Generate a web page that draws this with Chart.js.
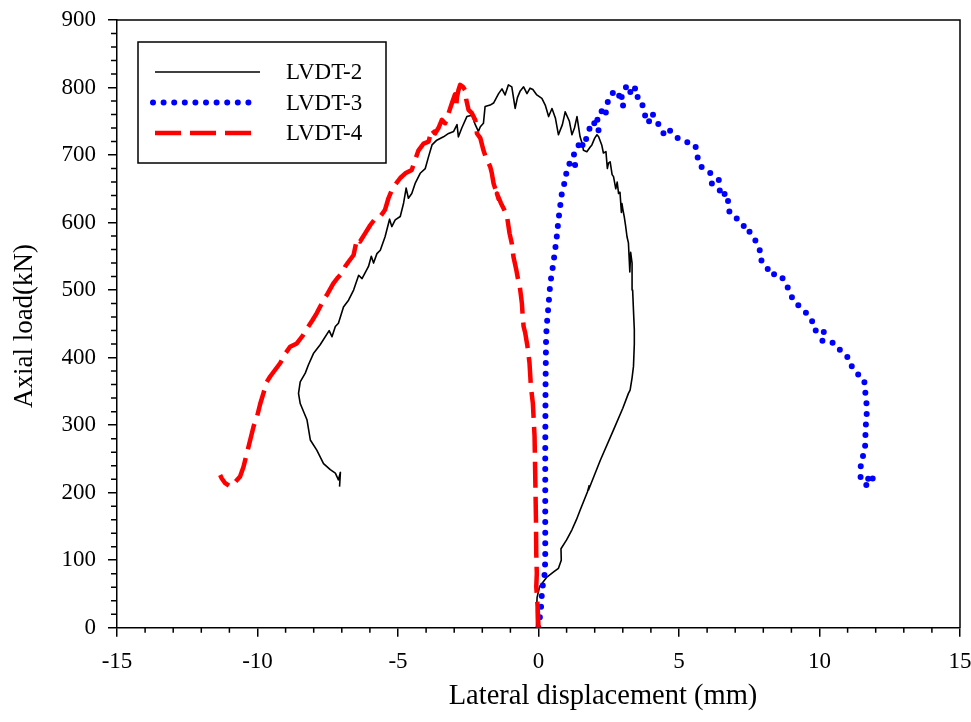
<!DOCTYPE html>
<html>
<head>
<meta charset="utf-8">
<script src="https://cdn.jsdelivr.net/npm/chart.js@4.4.1/dist/chart.umd.min.js"></script>
<style>
html,body{margin:0;padding:0;background:#fff;}
#wrap{width:971px;height:722px;position:relative;}
</style>
</head>
<body>
<div id="wrap"><canvas id="c" width="971" height="722"></canvas></div>
<script>
// ---------- data ----------
const seriesNames = ['LVDT-2', 'LVDT-3', 'LVDT-4'];
const xAxisTitle = 'Lateral displacement (mm)';
const yAxisTitle = 'Axial load(kN)';
const xTickValues = [-15, -10, -5, 0, 5, 10, 15];
const yTickValues = [0, 100, 200, 300, 400, 500, 600, 700, 800, 900];

// LVDT-2 (black solid)
const lvdt2X = [-0.08,-0.07,-0.05,0.04,0.30,0.55,0.71,0.81,0.80,1.00,1.19,1.35,1.48,1.74,1.80,1.78,2.20,2.67,3.00,3.20,3.26,3.33,3.38,3.41,3.41,3.38,3.35,3.33,3.28,3.25,3.20,3.15,3.10,3.05,3.00,2.97,2.95,2.90,2.85,2.80,2.75,2.67,2.62,2.55,2.49,2.45,2.40,2.31,2.25,2.14,2.08,2.00,1.90,1.84,1.72,1.60,1.55,1.48,1.37,1.28,1.19,1.10,0.95,0.85,0.71,0.60,0.48,0.36,0.24,0.12,-0.06,-0.20,-0.30,-0.41,-0.53,-0.65,-0.75,-0.83,-0.95,-1.07,-1.19,-1.30,-1.42,-1.60,-1.72,-1.90,-1.96,-2.07,-2.14,-2.25,-2.37,-2.55,-2.73,-2.85,-2.90,-3.02,-3.20,-3.38,-3.62,-3.79,-3.91,-4.03,-4.21,-4.39,-4.51,-4.63,-4.71,-4.80,-4.92,-5.10,-5.22,-5.30,-5.46,-5.63,-5.75,-5.87,-5.95,-6.05,-6.28,-6.40,-6.58,-6.76,-6.94,-7.12,-7.23,-7.35,-7.45,-7.77,-8.01,-8.19,-8.30,-8.48,-8.54,-8.48,-8.24,-8.12,-7.89,-7.65,-7.41,-7.23,-7.12,-7.05,-7.08];
const lvdt2Y = [0,25,45,61,75,83,88,100,117,130,145,160,174,201,210,204,248,293,325,347,352,370,387,420,441,470,500,540,556,527,570,579,595,609,620,628,615,645,643,660,650,668,671,690,688,680,705,703,715,727,730,725,715,712,705,707,718,727,757,740,730,750,764,745,730,755,769,757,774,784,789,797,799,791,801,795,785,769,801,804,789,798,791,777,774,772,747,742,735,745,759,757,740,727,745,735,732,727,722,715,698,680,673,658,643,636,651,629,609,604,594,605,579,559,554,540,550,535,517,522,500,485,475,451,446,431,440,419,406,389,377,364,347,332,308,278,263,243,234,229,219,230,209];

// LVDT-3 (blue dotted)
const lvdt3X = [0.00,0.03,0.06,0.10,0.12,0.14,0.17,0.22,0.24,0.24,0.24,0.25,0.27,0.30,0.33,0.36,0.42,0.53,0.59,0.65,0.71,0.77,0.83,0.95,1.01,1.13,1.31,1.25,1.37,1.48,1.60,1.72,1.84,1.95,2.14,2.08,2.25,2.37,2.49,2.73,2.85,3.02,2.95,3.15,3.25,3.32,3.45,3.55,3.68,3.74,3.91,4.04,4.21,4.45,4.60,4.87,5.22,5.58,5.64,5.75,6.11,6.17,6.41,6.47,6.70,6.76,6.80,7.06,7.30,7.32,7.45,7.71,7.87,7.91,8.13,8.25,8.45,8.60,8.74,8.93,9.07,9.31,9.53,9.75,9.81,10.00,10.17,10.05,10.30,10.62,10.80,11.03,11.15,11.31,11.59,11.62,11.66,11.69,11.66,11.64,11.63,11.62,11.57,11.51,11.47,11.45,11.47,11.59,11.74,11.80,11.70,11.85,11.98];
const lvdt3Y = [0,10,19,35,51,60,66,80,100,160,258,357,431,451,465,480,510,540,559,579,604,624,643,663,678,690,683,700,707,722,712,727,742,750,735,759,765,757,784,796,790,772,785,804,795,789,800,782,779,764,747,762,750,732,740,727,720,715,700,684,674,658,666,639,644,628,614,606,596,589,590,574,560,545,534,522,524,523,514,499,484,475,466,453,441,438,440,425,425,419,406,400,387,377,368,352,338,322,308,293,278,265,258,248,240,230,219,213,210,218,222,216,231];

// LVDT-4 (red dashed)
const lvdt4X = [0.00,-0.03,-0.08,-0.06,-0.08,-0.09,-0.12,-0.14,-0.20,-0.27,-0.32,-0.39,-0.47,-0.53,-0.56,-0.59,-0.68,-0.71,-0.79,-0.89,-0.95,-1.03,-1.12,-1.22,-1.34,-1.48,-1.42,-1.60,-1.66,-1.72,-1.84,-1.96,-2.07,-2.19,-2.25,-2.37,-2.49,-2.57,-2.61,-2.69,-2.79,-2.85,-2.90,-2.93,-2.97,-3.08,-3.20,-3.32,-3.44,-3.56,-3.68,-3.80,-3.91,-4.09,-4.27,-4.39,-4.51,-4.74,-4.92,-5.10,-5.22,-5.34,-5.46,-5.63,-5.81,-5.99,-6.17,-6.35,-6.45,-6.52,-6.58,-6.76,-6.88,-7.00,-7.17,-7.30,-7.50,-7.65,-7.89,-8.05,-8.24,-8.40,-8.60,-8.84,-9.01,-9.19,-9.37,-9.55,-9.67,-9.79,-9.90,-10.02,-10.14,-10.26,-10.38,-10.50,-10.62,-10.79,-10.97,-11.15,-11.27,-11.33];
const lvdt4Y = [0,30,61,80,110,160,234,283,332,357,392,416,436,446,460,480,510,512,530,549,569,584,609,619,629,643,635,658,673,683,693,707,725,732,752,762,767,782,796,801,804,796,786,772,790,777,762,747,752,740,732,738,720,717,707,693,678,673,666,656,648,636,619,609,606,596,584,572,576,564,552,542,535,525,517,510,495,485,466,455,443,432,421,416,406,392,382,372,364,347,332,312,298,278,258,238,224,216,209,214,221,226];

// ---------- helpers ----------
function toPoints(xs, ys) { return xs.map((x, i) => ({ x: x, y: ys[i] })); }

const FONT = 'Liberation Serif';
Chart.defaults.font.family = FONT;
Chart.defaults.color = '#000';

const seriesStyles = [
  { color: '#000000', width: 1.6, dash: [], cap: 'butt' },
  { color: '#0000ff', width: 6, dash: [0, 10.6], cap: 'round' },
  { color: '#ff0000', width: 4.5, dash: [26, 9], cap: 'butt' }
];

const datasets = [
  toPoints(lvdt2X, lvdt2Y),
  toPoints(lvdt3X, lvdt3Y),
  toPoints(lvdt4X, lvdt4Y)
].map((pts, i) => ({
  label: seriesNames[i],
  data: pts,
  showLine: true,
  pointRadius: 0,
  pointHoverRadius: 0,
  borderColor: seriesStyles[i].color,
  backgroundColor: seriesStyles[i].color,
  borderWidth: seriesStyles[i].width,
  borderDash: seriesStyles[i].dash,
  borderCapStyle: seriesStyles[i].cap,
  borderJoinStyle: 'round',
  tension: 0,
  fill: false,
  order: i === 0 ? 2 : (i === 1 ? 1 : 0)
}));

// ---------- decorations plugin ----------
const decor = {
  id: 'decor',
  afterDraw(chart) {
    const ctx = chart.ctx;
    const ca = chart.chartArea;
    const xs = chart.scales.x, ys = chart.scales.y;
    ctx.save();
    // frame (top and right)
    ctx.strokeStyle = '#000';
    ctx.lineWidth = 1.5;
    ctx.beginPath();
    ctx.moveTo(ca.left, ca.top); ctx.lineTo(ca.right, ca.top); ctx.lineTo(ca.right, ca.bottom);
    ctx.stroke();
    // minor ticks
    ctx.lineWidth = 1.5;
    ctx.beginPath();
    for (let v = -14; v <= 14; v++) {
      if (v % 5 === 0) continue;
      const px = xs.getPixelForValue(v);
      ctx.moveTo(px, ca.bottom); ctx.lineTo(px, ca.bottom + 5);
    }
    for (let v = 20; v < 900; v += 20) {
      if (v % 100 === 0) continue;
      const py = ys.getPixelForValue(v);
      ctx.moveTo(ca.left, py); ctx.lineTo(ca.left - 6, py);
    }
    ctx.stroke();

    // axis titles
    ctx.fillStyle = '#000';
    ctx.font = '28.5px "' + FONT + '"';
    ctx.textAlign = 'center';
    ctx.textBaseline = 'middle';
    ctx.fillText(xAxisTitle, 603, 697);
    ctx.save();
    ctx.translate(25, 326);
    ctx.rotate(-Math.PI / 2);
    ctx.font = '27px "' + FONT + '"';
    ctx.fillText(yAxisTitle, 0, 0);
    ctx.restore();

    // legend
    const bx = 138, by = 42, bw = 248, bh = 121;
    ctx.fillStyle = '#fff';
    ctx.fillRect(bx, by, bw, bh);
    ctx.strokeStyle = '#000';
    ctx.lineWidth = 1.5;
    ctx.setLineDash([]);
    ctx.strokeRect(bx, by, bw, bh);
    const rows = [72, 102.5, 133];
    const sampleStart = [155, 153, 155], sampleEnd = [260, 251, 251];
    chart.data.datasets.forEach((ds, i) => {
      const st = seriesStyles[i];
      ctx.save();
      ctx.strokeStyle = st.color;
      ctx.lineWidth = st.width;
      ctx.lineCap = st.cap;
      ctx.setLineDash(st.dash);
      ctx.beginPath();
      ctx.moveTo(sampleStart[i], rows[i]);
      ctx.lineTo(sampleEnd[i], rows[i]);
      ctx.stroke();
      ctx.restore();
      ctx.fillStyle = '#000';
      ctx.font = '23px "' + FONT + '"';
      ctx.textAlign = 'left';
      ctx.textBaseline = 'middle';
      ctx.fillText(ds.label, 286, rows[i] + 1);
    });
    ctx.restore();
  }
};

new Chart(document.getElementById('c'), {
  type: 'scatter',
  data: { datasets: datasets },
  options: {
    responsive: false,
    devicePixelRatio: 1,
    animation: false,
    events: [],
    layout: { padding: { left: 0, top: 20, right: 11, bottom: 0 } },
    plugins: { legend: { display: false }, tooltip: { enabled: false }, title: { display: false } },
    scales: {
      x: {
        type: 'linear', position: 'bottom', min: -15, max: 15,
        afterBuildTicks: (s) => { s.ticks = xTickValues.map(v => ({ value: v })); },
        ticks: { font: { size: 23, family: FONT }, color: '#000', padding: 11, maxRotation: 0, autoSkip: false },
        grid: { drawOnChartArea: false, drawTicks: true, tickLength: 9, color: '#000', lineWidth: 1.5 },
        border: { display: true, color: '#000', width: 1.5 },
        title: { display: false },
        afterFit: (s) => { s.height = 94.3; s.paddingLeft = 0; s.paddingRight = 0; }
      },
      y: {
        type: 'linear', position: 'left', min: 0, max: 900,
        afterBuildTicks: (s) => { s.ticks = yTickValues.map(v => ({ value: v })); },
        ticks: { font: { size: 23, family: FONT }, color: '#000', padding: 12, autoSkip: false },
        grid: { drawOnChartArea: false, drawTicks: true, tickLength: 9, color: '#000', lineWidth: 1.5 },
        border: { display: true, color: '#000', width: 1.5 },
        title: { display: false },
        afterFit: (s) => { s.width = 117; s.paddingTop = 0; s.paddingBottom = 0; }
      }
    }
  },
  plugins: [decor]
});
</script>
</body>
</html>
